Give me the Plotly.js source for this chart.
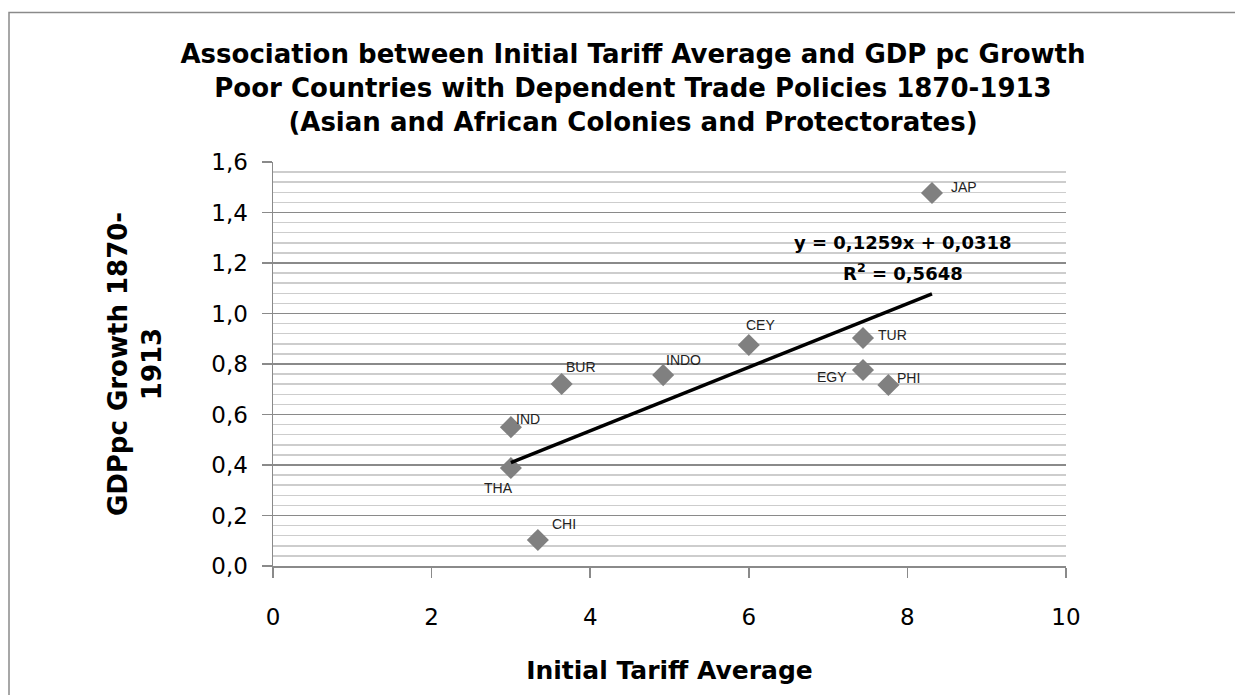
<!DOCTYPE html>
<html>
<head>
<meta charset="utf-8">
<script src="https://cdn.plot.ly/plotly-3.0.1.min.js"></script>
<style>
  html, body { margin: 0; padding: 0; background: #fff; }
  #chart { width: 1235px; height: 695px; }
</style>
</head>
<body>
<div id="chart"></div>
<script>
// ---- data ----
const countries = ["JAP", "TUR", "EGY", "PHI", "CEY", "INDO", "BUR", "IND", "THA", "CHI"];
const tariffAvg = [8.31, 7.44, 7.44, 7.76, 6.00, 4.92, 3.64, 3.00, 3.00, 3.34];
const gdpGrowth = [1.477, 0.903, 0.776, 0.717, 0.875, 0.756, 0.721, 0.550, 0.388, 0.103];
const trendSlope = 0.1259;
const trendIntercept = 0.0318;
const trendR2 = 0.5648;
const xTickVals = [0, 2, 4, 6, 8, 10];
const yTickVals = [0, 0.2, 0.4, 0.6, 0.8, 1.0, 1.2, 1.4, 1.6];

// ---- label placement (pixel offsets from marker, styling only) ----
const labelOffset = {
  JAP: [32, 6], TUR: [30, 3], EGY: [-31, -7], PHI: [20, 7], CEY: [12, 20],
  INDO: [20, 15], BUR: [19, 17], IND: [17, 8], THA: [-12, -20], CHI: [26, 16]
};

const fmt = (v, d) => v.toFixed(d).replace('.', ',');

const xMin = Math.min(...tariffAvg), xMax = Math.max(...tariffAvg);
const trendX = [xMin, xMax];
const trendY = trendX.map(x => trendSlope * x + trendIntercept);

const FONT = "Liberation Sans, Arial, sans-serif";
const WIDE = "DejaVu Sans, Verdana, sans-serif";
const GRID_MAJOR = "#8a8a8a";
const GRID_MINOR = "#cdcdcd";

const traces = [
  {
    type: "scatter", mode: "markers",
    x: tariffAvg, y: gdpGrowth, text: countries,
    marker: { symbol: "diamond", size: 17, color: "#808080", line: { width: 0 } },
    showlegend: false, hoverinfo: "text+x+y"
  },
  {
    type: "scatter", mode: "lines",
    x: trendX, y: trendY,
    line: { color: "#000000", width: 3.5 },
    showlegend: false, hoverinfo: "skip"
  }
];

const annotations = countries.map((c, i) => ({
  x: tariffAvg[i], y: gdpGrowth[i], xref: "x", yref: "y",
  text: c, showarrow: false,
  xanchor: "center", yanchor: "middle",
  xshift: labelOffset[c][0], yshift: labelOffset[c][1],
  font: { family: FONT, size: 14, color: "#222222" }
}));

annotations.push({
  xref: "paper", yref: "paper", x: 0.7945, y: 0.80,
  xanchor: "center", yanchor: "middle", showarrow: false,
  text: "y = " + fmt(trendSlope, 4) + "x + " + fmt(trendIntercept, 4),
  font: { family: WIDE, size: 18, color: "#000000", weight: "bold" }
});
annotations.push({
  xref: "paper", yref: "paper", x: 0.7945, y: 0.728,
  xanchor: "center", yanchor: "middle", showarrow: false,
  text: "R<sup>2</sup> = " + fmt(trendR2, 4),
  font: { family: WIDE, size: 18, color: "#000000", weight: "bold" }
});

const layout = {
  width: 1235, height: 695,
  margin: { l: 273, r: 169, t: 162, b: 129, autoexpand: false },
  paper_bgcolor: "#ffffff", plot_bgcolor: "#ffffff",
  showlegend: false,
  separators: ", ",
  title: {
    text: "Association between Initial Tariff Average and GDP pc Growth<br>Poor Countries with Dependent Trade Policies 1870-1913<br>(Asian and African Colonies and Protectorates)",
    x: 633 / 1235, xref: "container", xanchor: "center",
    y: 1 - 63 / 695, yref: "container", yanchor: "top",
    font: { family: WIDE, size: 26, color: "#000000", weight: "bold" }
  },
  xaxis: {
    range: [0, 10], tickvals: xTickVals, ticktext: xTickVals.map(v => String(v)),
    showgrid: false, zeroline: false,
    showline: true, linecolor: GRID_MAJOR, linewidth: 1.5,
    ticks: "outside", ticklen: 10, tickwidth: 1.5, tickcolor: GRID_MAJOR,
    ticklabelstandoff: 20,
    tickfont: { family: WIDE, size: 23, color: "#000000" },
    title: { text: "Initial Tariff Average", standoff: 32,
             font: { family: WIDE, size: 25, color: "#000000", weight: "bold" } },
    fixedrange: true
  },
  yaxis: {
    range: [0, 1.6], tickvals: yTickVals, ticktext: yTickVals.map(v => fmt(v, 1)),
    showgrid: true, gridcolor: GRID_MAJOR, gridwidth: 1.5,
    minor: { dtick: 0.04, tick0: 0, showgrid: true, gridcolor: GRID_MINOR, gridwidth: 1.5, ticks: "" },
    zeroline: false,
    showline: true, linecolor: GRID_MAJOR, linewidth: 1.5,
    ticks: "outside", ticklen: 10, tickwidth: 1.5, tickcolor: GRID_MAJOR,
    ticklabelstandoff: 9,
    tickfont: { family: WIDE, size: 23, color: "#000000" },
    title: { text: "GDPpc Growth 1870-<br>1913", standoff: 42,
             font: { family: WIDE, size: 26, color: "#000000", weight: "bold" } },
    fixedrange: true
  },
  annotations: annotations,
  shapes: [{
    type: "rect", xref: "paper", yref: "paper", layer: "below",
    x0: (9 - 273) / 793, x1: 1.4, y0: -0.6, y1: (566 - 12.5) / 404,
    line: { color: "#8a8a8a", width: 1.5 }, fillcolor: "rgba(0,0,0,0)"
  }]
};

Plotly.newPlot("chart", traces, layout, { displayModeBar: false, staticPlot: true });
</script>
</body>
</html>
